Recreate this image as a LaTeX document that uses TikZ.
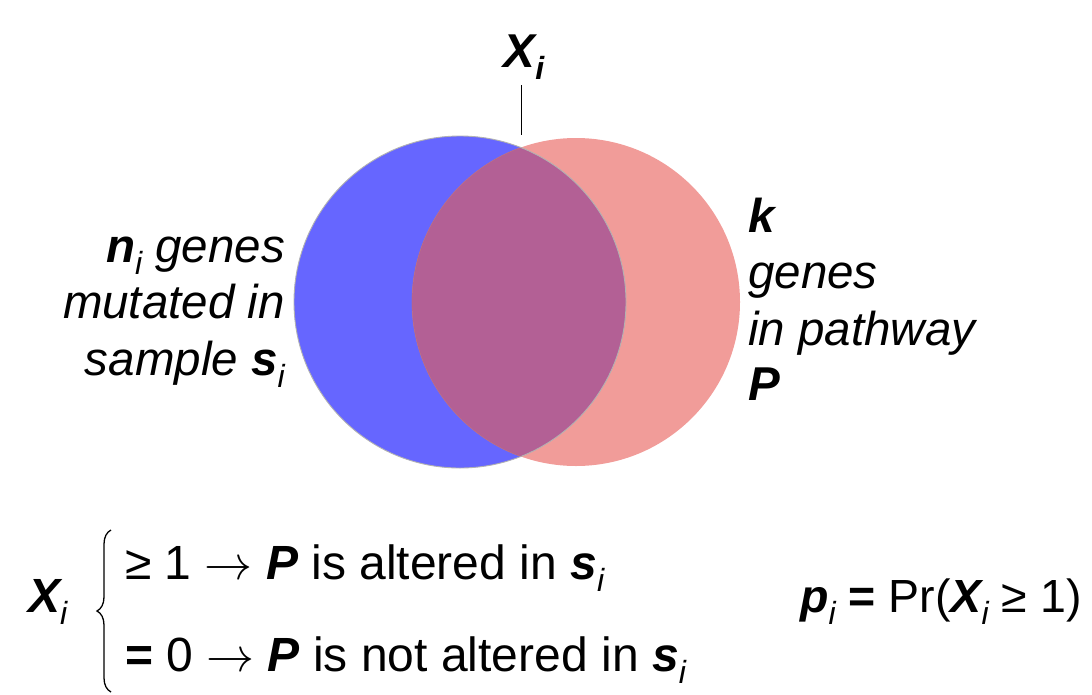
\RequirePackage{fix-cm}
\documentclass[tikz,border=0pt]{standalone}
\usepackage{fontspec}
\setmainfont{Liberation Sans}
\usetikzlibrary{decorations.pathreplacing}
\definecolor{cblue}{RGB}{102,102,255}
\definecolor{cred}{RGB}{241,156,153}
\definecolor{cmix}{RGB}{179,96,149}
\definecolor{credge}{RGB}{190,110,120}
\newcommand{\bi}[1]{{\bfseries\itshape #1}}
\newcommand{\subi}{\raisebox{-12pt}{\fontsize{32}{32}\selectfont\itshape i}}
\newcommand{\subbi}{\raisebox{-12pt}{\fontsize{32}{32}\selectfont\bfseries\itshape i}}
\begin{document}
\begin{tikzpicture}[x=1pt,y=-1pt,
  txt/.style={inner sep=0pt, font=\fontsize{47.5}{56}\selectfont},
  deftxt/.style={inner sep=0pt, font=\fontsize{48}{56}\selectfont},
  setA/.style={fill=cblue},
  setB/.style={fill=cred},
  setAB/.style={fill=cmix},
  bracestyle/.style={decorate, decoration={brace, amplitude=14pt}, line width=1.3pt}]
\useasboundingbox (0,0) rectangle (1092,694);
% Venn circles
\fill[setA] (460,302) circle (166pt);
\fill[setB] (576,302) circle (164pt);
\begin{scope}
  \clip (460,302) circle (166pt);
  \fill[setAB] (576,302) circle (164pt);
  \draw[credge, opacity=0.6, line width=0.8pt] (576,302) circle (164pt);
\end{scope}
\draw[gray!60, line width=0.9pt] (460,302) circle (166pt);
% top label
\node[txt, anchor=base] (Xtop) at (524,67) {\bi{X}\subbi};
\coordinate (tip) at (521,135);
\draw[line width=1pt] (tip |- Xtop.south) ++(0,6) -- (tip);
% left label
\node[txt, anchor=base east] (L1) at (285,262) {\bi{n}\subi\ \textit{genes}};
\node[txt, anchor=base east] (L2) at (285,318) {\textit{mutated in}};
\node[txt, anchor=base east] (L3) at (285,375) {\textit{sample }\bi{s}\subi};
% right label
\node[txt, anchor=base west] (R1) at (748,232) {\bi{k}};
\node[txt, anchor=base west] (R2) at (748,288) {\textit{genes}};
\node[txt, anchor=base west] (R3) at (748,345) {\textit{in pathway}};
\node[txt, anchor=base west] (R4) at (748,400) {\bi{P}};
% bottom definition
\node[deftxt, anchor=base west] (Xb) at (28,612) {\bi{X}\subi};
\coordinate (bb) at (111,692);
\coordinate (bt) at (111,530);
\draw[bracestyle] (bb) -- (bt);
\node[deftxt, anchor=base west] (C1) at (125,579) {≥ 1 $\rightarrow$ \bi{P} is altered in \bi{s}\subi};
\node[deftxt, anchor=base west] (C2) at (125,671) {\textbf{=} 0 $\rightarrow$ \bi{P} is not altered in \bi{s}\subi};
\node[inner sep=0pt, font=\fontsize{46.5}{56}\selectfont, anchor=base west] (pi) at (800,612) {\bi{p}\subi\ \textbf{=} Pr(\bi{X}\subi\ ≥ 1)};
\end{tikzpicture}
\end{document}
